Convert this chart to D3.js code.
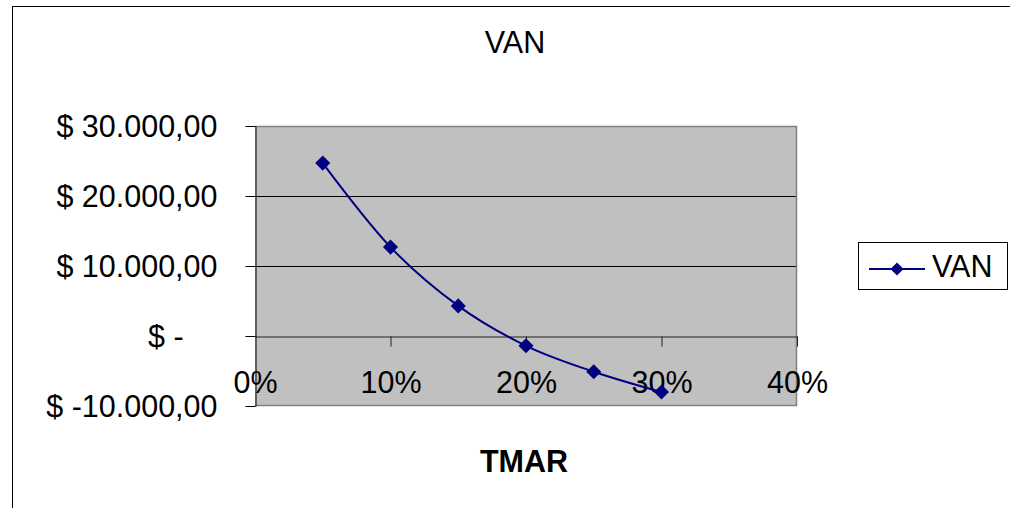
<!DOCTYPE html>
<html>
<head>
<meta charset="utf-8">
<script src="https://cdn.jsdelivr.net/npm/d3@7"></script>
<style>
  html, body { margin: 0; padding: 0; background: #fff; }
  svg { display: block; font-family: "Liberation Sans", Arial, sans-serif; }
</style>
</head>
<body>
<svg id="chart" width="1010" height="508"></svg>
<script>
// ---- data ----
const tmar = [0.05, 0.10, 0.15, 0.20, 0.25, 0.30];
const van = [24700, 12700, 4300, -1400, -5100, -8000];
const seriesName = "VAN";
const chartTitle = "VAN";
const xTitle = "TMAR";
const yTicks = [-10000, 0, 10000, 20000, 30000];
const xTicks = [0, 0.10, 0.20, 0.30, 0.40];

// ---- layout ----
const svg = d3.select("#chart");
const plot = { left: 255, right: 797, top: 126, bottom: 406 };
const fs = 30.5;

const x = d3.scaleLinear().domain([0, 0.40]).range([plot.left, plot.right]);
const y = d3.scaleLinear().domain([-10000, 30000]).range([plot.bottom, plot.top]);

function fmtMoney(v) {
  if (v === 0) return "$ -\u00a0\u00a0\u00a0\u00a0";
  const s = d3.format(",.2f")(Math.abs(v)).replace(/,/g, "#").replace(".", ",").replace(/#/g, ".");
  return "$ " + (v < 0 ? "-" : "") + s;
}

// outer border
svg.append("rect").attr("x", 12.5).attr("y", 6.5).attr("width", 1100).attr("height", 600)
  .attr("fill", "#fff").attr("stroke", "#000").attr("stroke-width", 1);

// title
svg.append("text").attr("x", 515).attr("y", 53).attr("text-anchor", "middle")
  .attr("font-size", fs).text(chartTitle);

// plot background
svg.append("rect").attr("x", plot.left).attr("y", plot.top)
  .attr("width", plot.right - plot.left).attr("height", plot.bottom - plot.top)
  .attr("fill", "#c0c0c0");

// gridlines
svg.append("g").selectAll("line").data(yTicks.filter(d => d !== 0 && d !== 30000 && d !== -10000))
  .join("line")
  .attr("x1", plot.left).attr("x2", plot.right)
  .attr("y1", d => Math.round(y(d)) + 0.5).attr("y2", d => Math.round(y(d)) + 0.5)
  .attr("stroke", "#000").attr("stroke-width", 1);

// plot border (top, right, bottom)
svg.append("path")
  .attr("d", `M${plot.left},${plot.top + 0.5} H${plot.right - 0.5} V${plot.bottom - 0.5} H${plot.left}`)
  .attr("fill", "none").attr("stroke", "#808080").attr("stroke-width", 1.5);

// x tick labels (positioned at the bottom of the plot area)
const xLab = svg.append("g").attr("transform", `translate(0,${plot.bottom})`)
  .call(d3.axisBottom(x).tickValues(xTicks).tickFormat(d3.format(".0%")).tickSize(0));
xLab.select(".domain").remove();
xLab.selectAll("text").attr("y", -13).attr("dy", 0)
  .attr("font-size", fs).attr("font-family", "Liberation Sans, Arial, sans-serif").attr("fill", "#000");

// x axis line at 0 with ticks
const xAx = svg.append("g").attr("transform", `translate(0,${Math.round(y(0)) + 0.5})`)
  .call(d3.axisBottom(x).tickValues(xTicks.filter(d => d > 0)).tickFormat("").tickSize(10).tickSizeOuter(0));
xAx.select(".domain").attr("stroke", "#202020");
xAx.selectAll(".tick line").attr("stroke", "#202020");

// y axis
const yAx = svg.append("g").attr("transform", `translate(${plot.left + 0.5},0)`)
  .call(d3.axisLeft(y).tickValues(yTicks).tickFormat(fmtMoney).tickSize(10).tickSizeOuter(0).tickPadding(28));
yAx.select(".domain").attr("stroke", "#000");
yAx.selectAll(".tick line").attr("stroke", "#000");
yAx.selectAll("text").attr("font-size", fs).attr("dy", "0.36em")
  .attr("font-family", "Liberation Sans, Arial, sans-serif").attr("fill", "#000");

// series line
const pts = tmar.map((t, i) => [t, van[i]]);
const line = d3.line().x(d => x(d[0])).y(d => y(d[1])).curve(d3.curveCatmullRom.alpha(0));
svg.append("path").datum(pts).attr("d", line)
  .attr("fill", "none").attr("stroke", "#000080").attr("stroke-width", 2);

// markers
const diamond = d3.symbol().type(d3.symbolDiamond2).size(145);
svg.append("g").selectAll("path").data(pts).join("path")
  .attr("transform", d => `translate(${x(d[0])},${y(d[1])})`)
  .attr("d", diamond).attr("fill", "#000080");

// x axis title
svg.append("text").attr("x", 524).attr("y", 472).attr("text-anchor", "middle")
  .attr("font-size", fs).attr("font-weight", "bold").text(xTitle);

// legend
const lg = svg.append("g");
lg.append("rect").attr("x", 858.5).attr("y", 242.5).attr("width", 149).attr("height", 47)
  .attr("fill", "#fff").attr("stroke", "#000").attr("stroke-width", 1);
lg.append("line").attr("x1", 869).attr("x2", 925).attr("y1", 269).attr("y2", 269)
  .attr("stroke", "#000080").attr("stroke-width", 2);
lg.append("path").attr("transform", "translate(897,269)")
  .attr("d", d3.symbol().type(d3.symbolDiamond2).size(110)).attr("fill", "#000080");
lg.append("text").attr("x", 932).attr("y", 277).attr("font-size", fs).text(seriesName);
</script>
</body>
</html>
